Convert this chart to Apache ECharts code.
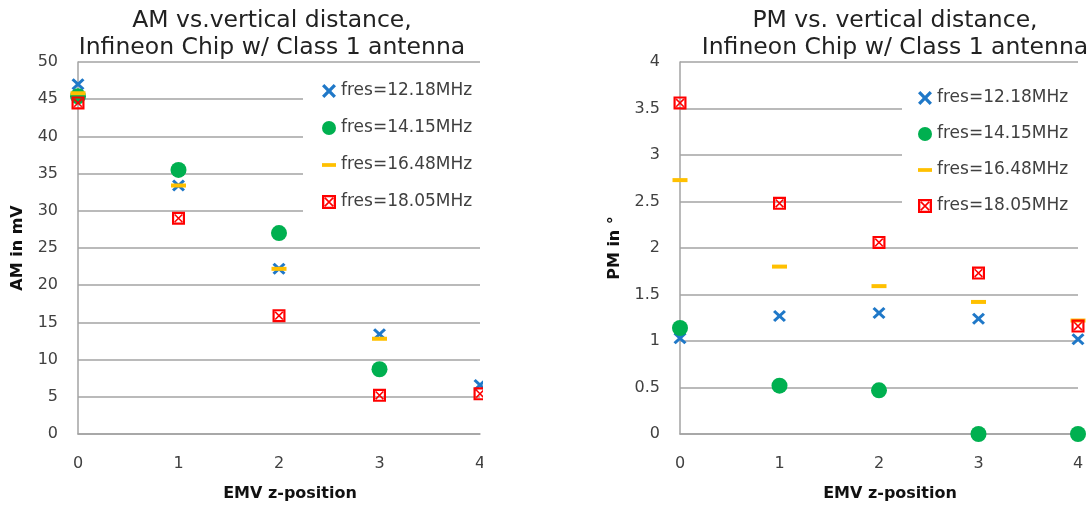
<!DOCTYPE html>
<html>
<head>
<meta charset="utf-8">
<script src="https://cdn.jsdelivr.net/npm/echarts@6/dist/echarts.min.js"></script>
<style>
html,body{margin:0;padding:0;background:#fff;}
#chart{width:1091px;height:509px;}
</style>
</head>
<body>
<div id="chart"></div>
<script>
// ---- data ----
const xPositions = [0, 1, 2, 3, 4];
const seriesNames = ['fres=12.18MHz', 'fres=14.15MHz', 'fres=16.48MHz', 'fres=18.05MHz'];
const amF1218 = [47.0, 33.4, 22.2, 13.4, 6.6];
const amF1415 = [45.4, 35.5, 27.0, 8.7, null];
const amF1648 = [45.8, 33.4, 22.2, 12.8, null];
const amF1805 = [44.5, 29.0, 15.9, 5.2, 5.4];
const pmF1218 = [1.03, 1.27, 1.30, 1.24, 1.02];
const pmF1415 = [1.14, 0.52, 0.47, 0, 0];
const pmF1648 = [2.73, 1.80, 1.59, 1.42, 1.22];
const pmF1805 = [3.56, 2.48, 2.06, 1.73, 1.16];
const xTicks = [0, 1, 2, 3, 4];
const amTicks = [0, 5, 10, 15, 20, 25, 30, 35, 40, 45, 50];
const pmTicks = [0, 0.5, 1, 1.5, 2, 2.5, 3, 3.5, 4];
const titles = ['AM vs.vertical distance,\nInfineon Chip w/ Class 1 antenna',
                'PM vs. vertical distance,\nInfineon Chip w/ Class 1 antenna'];
const yNames = ['AM in mV', 'PM in °'];
const xName = 'EMV z-position';

// ---- styles ----
const FONT = 'DejaVu Sans';
const colors = ['#1f78c8', '#00b050', '#ffc000', '#ff0000'];
const symX = 'path://M0 2L2 0L6 4L10 0L12 2L8 6L12 10L10 12L6 8L2 12L0 10L4 6Z';
const symBox = 'path://M0 0L12 0L12 12L0 12Z M2 2L2 10L10 10L10 2Z M2 3L3 2L10 9L9 10Z M9 2L10 3L3 10L2 9Z';
const symDash = 'path://M0 0L15 0L15 4L0 4Z';
const symbols = [symX, 'circle', 'rect', symBox];
const symbolSizes = [[13, 12], 16, [15, 4], 13];
const legendIcons = [symX, 'circle', symDash, symBox];

function pairs(arr) {
  const out = [];
  xPositions.forEach((x, i) => { if (arr[i] !== null) out.push([x, arr[i]]); });
  return out;
}
const gridColor = '#a3a3a3';
const labelColor = '#404040';

function makeSeries(idx, arrs) {
  return arrs.map((arr, k) => ({
    type: 'scatter',
    name: seriesNames[k],
    xAxisIndex: idx, yAxisIndex: idx,
    data: pairs(arr),
    symbol: symbols[k],
    symbolSize: symbolSizes[k],
    clip: false,
    itemStyle: { color: colors[k], opacity: 1, borderWidth: 0 },
    emphasis: { disabled: true },
    z: 2 + k
  }));
}

function xAxis(idx) {
  return {
    type: 'value', gridIndex: idx, min: 0, max: 4, interval: 1,
    name: xName, nameLocation: 'middle', nameGap: 52,
    nameTextStyle: { fontFamily: FONT, fontWeight: 'bold', fontSize: 16, color: '#111', padding: [0, 0, 0, 22] },
    axisLine: { show: true, lineStyle: { color: gridColor, width: 1.5 } },
    axisTick: { show: false },
    splitLine: { show: false },
    axisLabel: { fontFamily: FONT, fontSize: 16, color: labelColor, margin: 22 }
  };
}
function yAxis(idx, max, interval, gap) {
  return {
    type: 'value', gridIndex: idx, min: 0, max: max, interval: interval,
    name: yNames[idx], nameLocation: 'middle', nameGap: gap, nameRotate: 90,
    nameTextStyle: { fontFamily: FONT, fontWeight: 'bold', fontSize: 16, color: '#111' },
    axisLine: { show: true, lineStyle: { color: gridColor, width: 1.5 } },
    axisTick: { show: false },
    splitLine: { show: true, lineStyle: { color: gridColor, width: 1.5 } },
    axisLabel: { fontFamily: FONT, fontSize: 16, color: labelColor, margin: 20 }
  };
}
function legend(left, top, gap, padding) {
  return {
    orient: 'vertical', left: left, top: top, itemGap: gap,
    itemWidth: 14, itemHeight: 14, padding: padding,
    backgroundColor: '#ffffff',
    data: seriesNames.map((n, k) => ({ name: n, icon: legendIcons[k] })),
    textStyle: { fontFamily: FONT, fontSize: 17, lineHeight: 18, color: labelColor, padding: [0, 0, 0, 0] },
    itemStyle: { borderWidth: 0 },
    selectedMode: false, z: 10
  };
}

const chart = echarts.init(document.getElementById('chart'), null, { renderer: 'canvas' });
chart.setOption({
  backgroundColor: '#ffffff',
  animation: false,
  title: [
    { text: titles[0], left: 267, top: 2, textAlign: 'center',
      textStyle: { fontFamily: FONT, fontSize: 23.5, fontWeight: 'normal', lineHeight: 27, color: '#222' } },
    { text: titles[1], left: 890, top: 2, textAlign: 'center',
      textStyle: { fontFamily: FONT, fontSize: 23.5, fontWeight: 'normal', lineHeight: 27, color: '#222' } }
  ],
  grid: [
    { left: 78, top: 62, width: 402, height: 372, containLabel: false },
    { left: 680, top: 62, width: 398, height: 372, containLabel: false }
  ],
  xAxis: [xAxis(0), xAxis(1)],
  yAxis: [yAxis(0, 50, 5, 52), yAxis(1, 4, 0.5, 57)],
  legend: [
    legend(303, 69, 19, [13, 12, 15, 19]),
    legend(902, 73, 18, [16, 20, 12, 16])
  ],
  graphic: [
    { type: 'rect', left: 483, top: 0, shape: { width: 100, height: 509 }, style: { fill: '#ffffff' }, z: 100, silent: true }
  ],
  series: [].concat(
    makeSeries(0, [amF1218, amF1415, amF1648, amF1805]),
    makeSeries(1, [pmF1218, pmF1415, pmF1648, pmF1805])
  )
});
</script>
</body>
</html>
